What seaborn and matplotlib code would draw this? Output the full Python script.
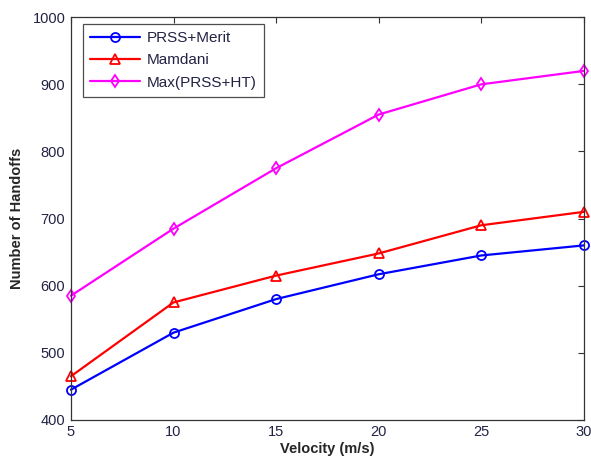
import matplotlib
matplotlib.use("Agg")
import matplotlib.pyplot as plt
import seaborn as sns
import pandas as pd
from matplotlib.lines import Line2D

velocity = [5, 10, 15, 20, 25, 30]
prss_merit = [445, 530, 580, 617, 645, 660]
mamdani = [465, 575, 615, 648, 690, 710]
max_prss_ht = [585, 685, 775, 855, 900, 920]

series_names = ["PRSS+Merit", "Mamdani", "Max(PRSS+HT)"]
x_ticks = [5, 10, 15, 20, 25, 30]
y_ticks = [400, 500, 600, 700, 800, 900, 1000]

df = pd.DataFrame({
    "Velocity": velocity * 3,
    "Handoffs": prss_merit + mamdani + max_prss_ht,
    "Scheme": [series_names[0]] * 6 + [series_names[1]] * 6 + [series_names[2]] * 6,
})

sns.set_theme(style="white")
plt.rcParams["font.family"] = ["Liberation Sans", "DejaVu Sans"]

fig = plt.figure(figsize=(5.91, 4.65), dpi=100)
ax = fig.add_axes([0.120, 0.097, 0.868, 0.866])

palette = {"PRSS+Merit": "#0000ff", "Mamdani": "#ff0000", "Max(PRSS+HT)": "#ff00ff"}
markers = {"PRSS+Merit": "o", "Mamdani": "^", "Max(PRSS+HT)": "d"}
line_w = 1.6
mark_s = 6.5

sns.lineplot(data=df, x="Velocity", y="Handoffs", hue="Scheme", style="Scheme",
             palette=palette, markers=markers, dashes=False, linewidth=line_w,
             markersize=mark_s, markerfacecolor="none", markeredgewidth=1.3,
             ax=ax, legend=False)
for line in ax.lines:
    line.set_markeredgecolor(line.get_color())
    line.set_markerfacecolor("none")
    line.set_clip_on(False)

ax.set_xlim(5, 30)
ax.set_ylim(400, 1000)
ax.set_xticks(x_ticks)
ax.set_yticks(y_ticks)
ax.tick_params(direction="in", length=4, width=0.8, top=True, right=True,
               labelsize=10.5, colors="#333333", labelcolor="#222244", pad=4)
for s in ax.spines.values():
    s.set_color("#333333")
    s.set_linewidth(0.9)

ax.set_xlabel("Velocity (m/s)", fontsize=10.5, fontweight="bold", labelpad=2)
ax.set_ylabel("Number of Handoffs", fontsize=10.5, fontweight="bold", labelpad=6)

handles = [Line2D([0], [0], color=palette[n], marker=markers[n], lw=line_w, ms=mark_s,
                  markerfacecolor="none", markeredgecolor=palette[n], markeredgewidth=1.3)
           for n in series_names]
leg = ax.legend(handles, series_names, loc="upper left", bbox_to_anchor=(0.023, 0.983),
                fontsize=11, frameon=True, fancybox=False, edgecolor="#222222",
                handlelength=3.3, borderpad=0.45, labelspacing=0.55, handletextpad=0.45,
                borderaxespad=0.0)
leg.get_frame().set_linewidth(0.9)
for t in leg.get_texts():
    t.set_color("#222244")

fig.savefig("out.png", dpi=100)
